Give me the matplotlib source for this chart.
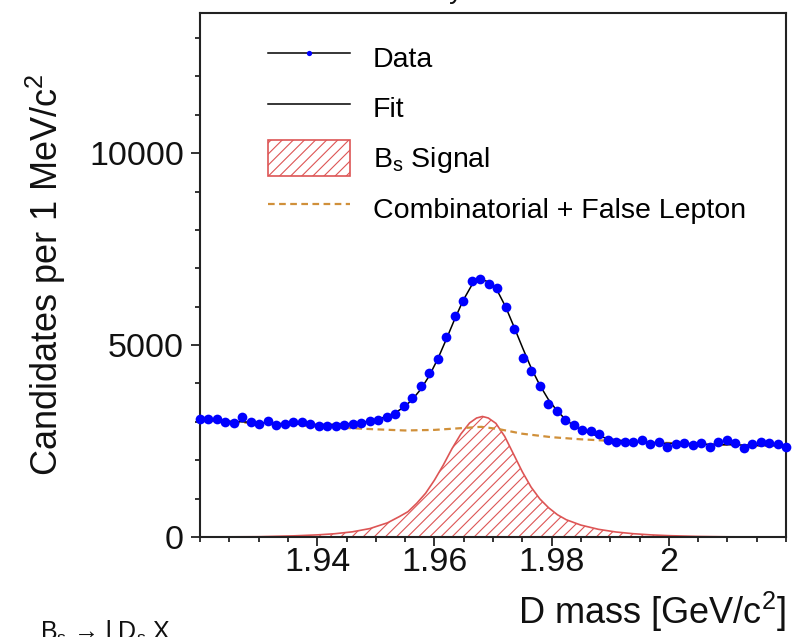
import numpy as np
import matplotlib
matplotlib.use('Agg')
import matplotlib.pyplot as plt
from matplotlib.lines import Line2D
from matplotlib.ticker import MultipleLocator, FixedLocator, FuncFormatter

# ─── DATA ──────────────────────────────────────────────────────
# bin centres, D mass [GeV/c^2]
mass = np.linspace(1.92, 2.02, 70)

counts = [3070, 3070, 3070, 3000, 2975, 3130, 3000, 2945, 3020, 2915,
          2945, 3000, 3000, 2940, 2900, 2885, 2900, 2915, 2935, 2970,
          3020, 3055, 3130, 3200, 3410, 3610, 3930, 4280, 4630, 5215,
          5755, 6150, 6680, 6710, 6590, 6490, 6000, 5415, 4650, 4320,
          3930, 3465, 3290, 3045, 2915, 2785, 2760, 2680, 2525, 2480,
          2465, 2465, 2525, 2420, 2480, 2350, 2415, 2455, 2395, 2455,
          2350, 2465, 2525, 2440, 2310, 2415, 2465, 2440, 2415, 2335]

fit = [3050, 3040, 3030, 3020, 3010, 3000, 2990, 2980, 2970, 2960,
       2950, 2945, 2940, 2935, 2930, 2930, 2935, 2945, 2960, 2985,
       3020, 3070, 3140, 3240, 3380, 3580, 3850, 4200, 4640, 5150,
       5680, 6170, 6560, 6710, 6650, 6420, 5990, 5460, 4920, 4400,
       3960, 3590, 3300, 3070, 2900, 2780, 2690, 2620, 2570, 2530,
       2505, 2485, 2470, 2460, 2450, 2440, 2435, 2430, 2425, 2420,
       2415, 2410, 2405, 2400, 2395, 2390, 2385, 2380, 2375, 2370]

sig_x = [1.920, 1.930, 1.936, 1.940, 1.943, 1.946, 1.949, 1.952, 1.954,
         1.9555, 1.957, 1.9585, 1.960, 1.9615, 1.963, 1.9645, 1.966,
         1.9672, 1.9682, 1.9692, 1.9705, 1.972, 1.9735, 1.975, 1.9765,
         1.978, 1.9795, 1.981, 1.9825, 1.985, 1.988, 1.991, 1.994, 1.997,
         2.000, 2.005, 2.010, 2.020]
sig_y = [0, 8, 30, 55, 85, 135, 220, 370, 530,
         660, 880, 1140, 1480, 1870, 2300, 2680, 2970,
         3100, 3140, 3100, 2960, 2620, 2160, 1700, 1300,
         990, 760, 580, 450, 310, 200, 130, 85, 55,
         35, 15, 5, 0]

bkg_x = [1.920, 1.925, 1.930, 1.935, 1.940, 1.945, 1.950, 1.955, 1.960,
         1.965, 1.968, 1.971, 1.975, 1.980, 1.985, 1.990, 1.995, 2.000,
         2.005, 2.010, 2.015, 2.020]
bkg_y = [3040, 3000, 2960, 2920, 2880, 2840, 2805, 2775, 2790,
         2840, 2870, 2810, 2690, 2600, 2545, 2505, 2475, 2450,
         2425, 2400, 2380, 2360]

# ─── STYLE ────────────────────────────────────────────────────
plt.rcParams.update({
    'font.family': ['Liberation Sans', 'DejaVu Sans'],
    'mathtext.fontset': 'custom',
    'mathtext.rm': 'Liberation Sans',
    'mathtext.it': 'Liberation Sans:italic',
    'hatch.linewidth': 0.8,
    'hatch.color': '#E06666',
})

RED = '#DD5555'
ORANGE = '#D0903A'

fig = plt.figure(figsize=(7.95, 6.37), dpi=100)
ax = fig.add_axes([200 / 795, 1 - 537 / 637, 586 / 795, 524 / 637])

ax.fill_between(sig_x, sig_y, 0, facecolor='white', edgecolor=RED,
                hatch='///', linewidth=1.2, zorder=1)
ax.plot(bkg_x, bkg_y, color=ORANGE, linewidth=1.6, dashes=(3, 2), zorder=2)
ax.plot(mass, fit, color='black', linewidth=1.1, zorder=3)
ax.plot(mass, counts, 'o', color='#0000FF', markersize=7,
        markeredgewidth=0, zorder=4, clip_on=False)

ax.set_xlim(1.92, 2.02)
ax.set_ylim(0, 13650)

ax.xaxis.set_major_locator(FixedLocator([1.94, 1.96, 1.98, 2.00]))
ax.xaxis.set_minor_locator(MultipleLocator(0.005))
ax.yaxis.set_major_locator(MultipleLocator(5000))
ax.yaxis.set_minor_locator(MultipleLocator(1000))
ax.xaxis.set_major_formatter(FuncFormatter(lambda v, p: f'{v:g}'))

ax.tick_params(which='both', direction='out', top=False, right=False,
               labelsize=24.5, width=1.2, colors='#111111')
ax.tick_params(which='major', length=6.5)
ax.tick_params(which='minor', length=3.5)
ax.tick_params(axis='x', pad=1)
ax.tick_params(axis='y', pad=5)
for s in ax.spines.values():
    s.set_linewidth(1.5)
    s.set_color('#222222')

ax.set_ylabel('Candidates per 1 MeV/c$^2$', fontsize=26, color='#111111')
ax.yaxis.set_label_coords(-0.225, 0.5)
ax.set_xlabel('D mass [GeV/c$^2$]', fontsize=26, color='#111111', ha='right')
ax.xaxis.set_label_coords(1.0, -0.101)

handles = [
    Line2D([], [], color='black', linewidth=1.1, marker='o', markersize=3.8,
           markerfacecolor='#0000FF', markeredgewidth=0),
    Line2D([], [], color='black', linewidth=1.1),
    plt.Rectangle((0, 0), 1, 1, facecolor='white', edgecolor=RED,
                  hatch='///', linewidth=1.2),
    Line2D([], [], color=ORANGE, linewidth=1.6, dashes=(3, 2)),
]
labels = ['Data', 'Fit', 'B$_\\mathrm{s}$ Signal', 'Combinatorial + False Lepton']
ax.legend(handles, labels, loc='upper left', bbox_to_anchor=(0.116, 0.949),
          frameon=False, fontsize=20.5, handlelength=2.88, handleheight=1.54,
          handletextpad=0.8, labelspacing=0.52, borderpad=0, borderaxespad=0,
          numpoints=1)

# header cut at the top edge and caption cut at the bottom edge
fig.text(463 / 795, 1 + 2.5 / 637, 'CDF Run II Preliminary', fontsize=20,
         ha='right', va='baseline', color='#111111')
fig.text(40 / 795, -0.004, 'B$_\\mathrm{s}$ → l D$_\\mathrm{s}$ X', fontsize=18,
         ha='left', va='baseline', color='#111111')

fig.savefig('out.png', dpi=100)
